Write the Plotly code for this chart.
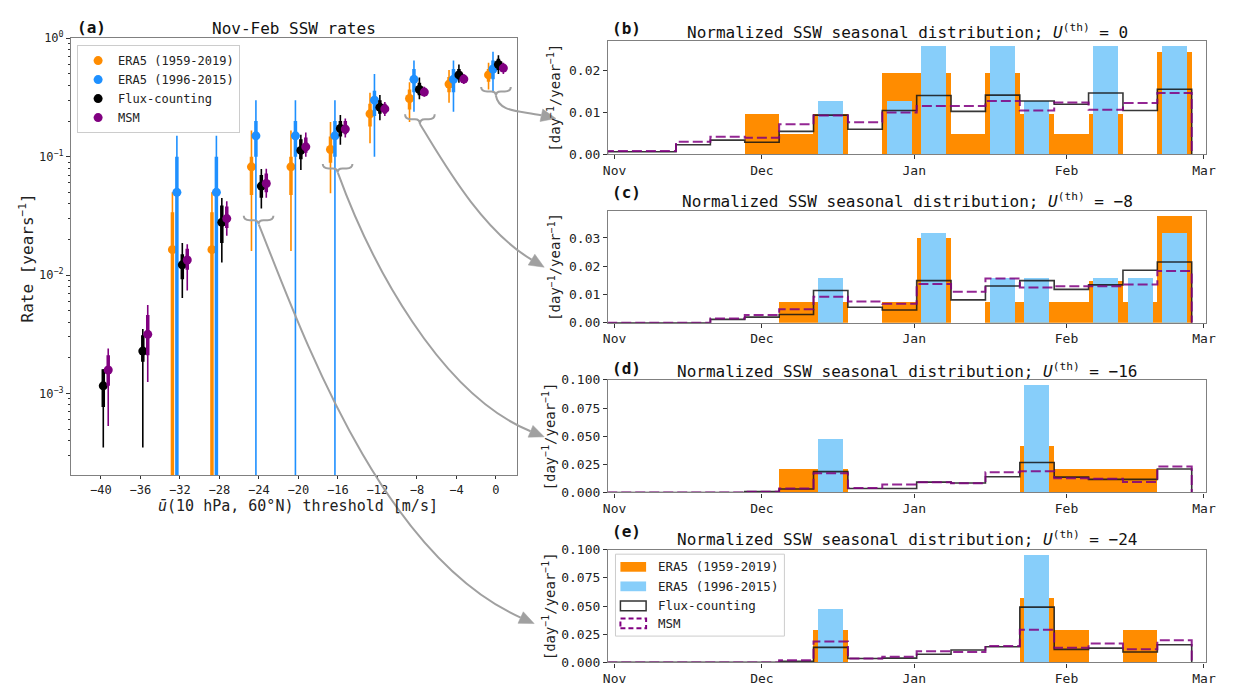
import plotly.graph_objects as go

W, H = 1233, 687
MONO = "DejaVu Sans Mono"
GRAY = "#a0a0a0"

# ---------------- Panel (a) data ----------------
thresholds = [-40, -36, -32, -28, -24, -20, -16, -12, -8, -4, 0]
threshold_labels = ["−40", "−36", "−32", "−28", "−24", "−20", "−16", "−12", "−8", "−4", "0"]

era5_long_rate = [None, None, 0.0164, 0.0164, 0.082, 0.082, 0.115, 0.23, 0.31, 0.41, 0.49]
era5_long_lo95 = [None, None, 0.0, 0.0, 0.016, 0.016, 0.049, 0.13, 0.196, 0.286, 0.37]
era5_long_hi95 = [None, None, 0.05, 0.05, 0.166, 0.166, 0.196, 0.347, 0.426, 0.54, 0.62]
era5_long_lo50 = [None, None, 0.0, 0.0, 0.0475, 0.0475, 0.089, 0.18, 0.25, 0.35, 0.43]
era5_long_hi50 = [None, None, 0.034, 0.034, 0.1, 0.1, 0.148, 0.28, 0.37, 0.47, 0.55]

era5_short_rate = [None, None, 0.05, 0.05, 0.15, 0.15, 0.15, 0.30, 0.45, 0.45, 0.55]
era5_short_lo95 = [None, None, 0.0, 0.0, 0.0, 0.0, 0.0, 0.1, 0.24, 0.24, 0.35]
era5_short_hi95 = [None, None, 0.15, 0.15, 0.3, 0.3, 0.3, 0.5, 0.65, 0.65, 0.77]
era5_short_lo50 = [None, None, 0.0, 0.0, 0.1, 0.1, 0.1, 0.22, 0.35, 0.35, 0.45]
era5_short_hi50 = [None, None, 0.1, 0.1, 0.2, 0.2, 0.2, 0.36, 0.55, 0.55, 0.65]

flux_rate = [0.00116, 0.00228, 0.0122, 0.0279, 0.0564, 0.113, 0.173, 0.261, 0.369, 0.49, 0.60]
flux_lo95 = [0.00035, 0.00035, 0.0064, 0.0128, 0.0365, 0.077, 0.126, 0.203, 0.305, 0.42, 0.50]
flux_hi95 = [0.0016, 0.0035, 0.0187, 0.0447, 0.0787, 0.153, 0.225, 0.332, 0.466, 0.60, 0.72]
flux_lo50 = [0.00077, 0.00185, 0.0092, 0.0187, 0.045, 0.095, 0.148, 0.23, 0.33, 0.45, 0.54]
flux_hi50 = [0.0016, 0.0031, 0.015, 0.0386, 0.07, 0.14, 0.2, 0.3, 0.42, 0.55, 0.67]

msm_rate = [0.00158, 0.00316, 0.0134, 0.030, 0.0593, 0.121, 0.171, 0.253, 0.351, 0.452, 0.56]
msm_lo95 = [0.00053, 0.00125, 0.0074, 0.0215, 0.045, 0.10, 0.145, 0.22, 0.32, 0.41, 0.50]
msm_hi95 = [0.0024, 0.0056, 0.0182, 0.042, 0.079, 0.16, 0.21, 0.29, 0.39, 0.50, 0.62]
msm_lo50 = [0.00116, 0.0021, 0.0111, 0.025, 0.05, 0.108, 0.155, 0.23, 0.33, 0.42, 0.52]
msm_hi50 = [0.0021, 0.0046, 0.0167, 0.038, 0.072, 0.145, 0.2, 0.28, 0.37, 0.48, 0.60]

series_names = ["ERA5 (1959-2019)", "ERA5 (1996-2015)", "Flux-counting", "MSM"]
series_colors = ["#ff8c00", "#1e90ff", "#000000", "#800080"]
series_offsets = [-0.75, -0.3, 0.25, 0.75]

# ---------------- Seasonal histograms (weekly bins, days since Nov 1) ----------------
bin_edges = [-1.5, 5.5, 12.5, 19.5, 26.5, 33.5, 40.5, 47.5, 54.5, 61.5,
             68.5, 75.5, 82.5, 89.5, 96.5, 103.5, 110.5, 117.5]
month_ticks = [0, 30, 61, 92, 120]
month_labels = ["Nov", "Dec", "Jan", "Feb", "Mar"]

# (b) U_th = 0
orange_b = [0, 0, 0, 0, 0.0098, 0.0049, 0.0098, 0, 0.0197, 0.0197, 0.0049, 0.0197, 0.0098, 0.0049, 0.0098, 0, 0.0246]
blue_b = [0, 0, 0, 0, 0, 0, 0.013, 0, 0.013, 0.026, 0, 0.026, 0.013, 0, 0.026, 0, 0.026]
flux_b = [0.0006, 0.0006, 0.0023, 0.0034, 0.0029, 0.0055, 0.0094, 0.006, 0.0105, 0.0141, 0.0103, 0.0142, 0.0128, 0.012, 0.0147, 0.0105, 0.0156]
msm_b = [0.0008, 0.0008, 0.003, 0.0042, 0.004, 0.0072, 0.0093, 0.0077, 0.01, 0.0116, 0.0116, 0.0128, 0.0105, 0.0124, 0.0107, 0.0123, 0.0147]

# (c) U_th = -8
orange_c = [0, 0, 0, 0, 0, 0.0075, 0.0075, 0, 0.0075, 0.0302, 0, 0.0075, 0.0075, 0.0075, 0.0151, 0.0075, 0.0378]
blue_c = [0, 0, 0, 0, 0, 0, 0.0159, 0, 0, 0.0318, 0, 0.0159, 0.0159, 0, 0.0159, 0.0159, 0.0318]
flux_c = [0, 0, 0, 0.0012, 0.002, 0.0029, 0.0114, 0.0055, 0.0045, 0.0149, 0.0081, 0.013, 0.0149, 0.0118, 0.0134, 0.0186, 0.0215]
msm_c = [0, 0, 0, 0.0015, 0.0027, 0.0048, 0.0092, 0.0075, 0.0067, 0.0137, 0.011, 0.0157, 0.0125, 0.0129, 0.0129, 0.0135, 0.0183]

# (d) U_th = -16
orange_d = [0, 0, 0, 0, 0, 0.0205, 0.0205, 0, 0, 0, 0, 0, 0.041, 0.0205, 0.0205, 0.0205, 0]
blue_d = [0, 0, 0, 0, 0, 0, 0.048, 0, 0, 0, 0, 0, 0.0956, 0, 0, 0, 0]
flux_d = [0, 0, 0, 0, 0.0008, 0.003, 0.0185, 0.0035, 0.0035, 0.0092, 0.0084, 0.0139, 0.0266, 0.0136, 0.0116, 0.0116, 0.0208]
msm_d = [0, 0, 0, 0, 0.0005, 0.0035, 0.017, 0.004, 0.007, 0.009, 0.0081, 0.018, 0.0188, 0.0127, 0.0121, 0.0092, 0.0231]

# (e) U_th = -24
orange_e = [0, 0, 0, 0, 0, 0, 0.0289, 0, 0, 0, 0, 0, 0.0578, 0.0289, 0, 0.0289, 0]
blue_e = [0, 0, 0, 0, 0, 0, 0.048, 0, 0, 0, 0, 0, 0.0956, 0, 0, 0, 0]
flux_e = [0, 0, 0, 0, 0, 0.001, 0.0133, 0.0035, 0.0038, 0.0072, 0.011, 0.0139, 0.049, 0.0116, 0.0127, 0.0092, 0.0156]
msm_e = [0, 0, 0, 0, 0, 0.002, 0.0185, 0.0035, 0.005, 0.01, 0.0092, 0.0145, 0.0289, 0.013, 0.0168, 0.0116, 0.0196]

hist_panels = [
    ("b", "0", orange_b, blue_b, flux_b, msm_b, [0, 0.0273], [0, 0.01, 0.02], ["0.00", "0.01", "0.02"]),
    ("c", "−8", orange_c, blue_c, flux_c, msm_c, [0, 0.0397], [0, 0.01, 0.02, 0.03], ["0.00", "0.01", "0.02", "0.03"]),
    ("d", "−16", orange_d, blue_d, flux_d, msm_d, [0, 0.1], [0, 0.025, 0.05, 0.075, 0.1], ["0.000", "0.025", "0.050", "0.075", "0.100"]),
    ("e", "−24", orange_e, blue_e, flux_e, msm_e, [0, 0.1], [0, 0.025, 0.05, 0.075, 0.1], ["0.000", "0.025", "0.050", "0.075", "0.100"]),
]
hist_legend_names = ["ERA5 (1959-2019)", "ERA5 (1996-2015)", "Flux-counting", "MSM"]

# ---------------- layout geometry (pixels) ----------------
def pxx(x):
    return x / W


def pxy(y):
    return 1 - y / H


A_BOX = (67, 518, 30, 478)  # left, right, top, bottom
HIST_X = (610.5, 1216.0)
HIST_Y = [(32.3, 149.0), (206.7, 321.7), (380.3, 495.7), (554.3, 670.0)]
HIST_YLABEL_X = [556, 556, 551, 551]
HIST_TITLE_DY = [9.5, 10, 10, 11]
HIST_LABEL_DY = [12, 18.5, 12, 19]

fig = go.Figure()

# ---------------- Panel (a) traces ----------------
all_series = [
    (era5_long_rate, era5_long_lo95, era5_long_hi95, era5_long_lo50, era5_long_hi50),
    (era5_short_rate, era5_short_lo95, era5_short_hi95, era5_short_lo50, era5_short_hi50),
    (flux_rate, flux_lo95, flux_hi95, flux_lo50, flux_hi50),
    (msm_rate, msm_lo95, msm_hi95, msm_lo50, msm_hi50),
]


def plus(v, hi):
    return [None if a is None else b - a for a, b in zip(v, hi)]


def minus(v, lo):
    return [None if a is None else a - b for a, b in zip(v, lo)]


for (rate, lo95, hi95, lo50, hi50), name, col, off in zip(all_series, series_names, series_colors, series_offsets):
    xs = [t + off for t in thresholds]
    fig.add_trace(go.Scatter(
        x=xs, y=rate, mode="markers", marker=dict(size=1, color="rgba(0,0,0,0)"),
        error_y=dict(type="data", symmetric=False, array=plus(rate, hi95), arrayminus=minus(rate, lo95),
                     thickness=1.6, width=0, color=col),
        showlegend=False, hoverinfo="skip", xaxis="x", yaxis="y"))
    fig.add_trace(go.Scatter(
        x=xs, y=rate, mode="markers", marker=dict(size=9, color=col),
        error_y=dict(type="data", symmetric=False, array=plus(rate, hi50), arrayminus=minus(rate, lo50),
                     thickness=3.5, width=0, color=col),
        name=name, xaxis="x", yaxis="y"))

# ---------------- Histogram traces ----------------
centers = [(a + b) / 2 for a, b in zip(bin_edges[:-1], bin_edges[1:])]
step_x = [bin_edges[0]] + bin_edges[:-1] + [bin_edges[-1], bin_edges[-1]]

for i, (lab, uth, org, blu, flx, msm, yr, ytv, ytt) in enumerate(hist_panels):
    xa, ya = "x%d" % (i + 2), "y%d" % (i + 2)
    fig.add_trace(go.Bar(x=centers, y=org, width=7, marker=dict(color="#ff8c00", line=dict(width=0)),
                         name=hist_legend_names[0], showlegend=False, xaxis=xa, yaxis=ya))
    fig.add_trace(go.Bar(x=centers, y=blu, width=5.1, marker=dict(color="#87cefa", line=dict(width=0)),
                         name=hist_legend_names[1], showlegend=False, xaxis=xa, yaxis=ya))
    fig.add_trace(go.Scatter(x=step_x, y=[0] + flx + [flx[-1], 0], mode="lines", line_shape="hv",
                             line=dict(color="rgba(20,20,20,0.85)", width=1.6), name=hist_legend_names[2],
                             showlegend=False, xaxis=xa, yaxis=ya))
    fig.add_trace(go.Scatter(x=step_x, y=[0] + msm + [msm[-1], 0], mode="lines", line_shape="hv",
                             line=dict(color="rgba(128,0,128,0.85)", width=2, dash="10px,4px"),
                             name=hist_legend_names[3], showlegend=False, xaxis=xa, yaxis=ya))

# ---------------- Axes ----------------
axis_common = dict(showline=True, mirror=True, linecolor="#808080", linewidth=1.3, ticks="outside",
                   ticklen=4, tickcolor="#333333", showgrid=False, zeroline=False,
                   tickfont=dict(family=MONO, size=12, color="#222222"))

minor_log = [m * 10 ** e for e in (-4, -3, -2, -1) for m in range(2, 10)]

layout = dict(
    width=W, height=H, margin=dict(l=0, r=0, t=0, b=0),
    paper_bgcolor="white", plot_bgcolor="white", barmode="overlay", bargap=0,
    font=dict(family=MONO, color="#222222"), showlegend=True,
    xaxis=dict(axis_common, domain=[pxx(A_BOX[0]), pxx(A_BOX[1])], range=[-43, 2.1], anchor="y",
               tickvals=thresholds, ticktext=threshold_labels, ticklen=3),
    yaxis=dict(axis_common, domain=[pxy(A_BOX[3]), pxy(A_BOX[2])], type="log", range=[-3.69, 0], anchor="x",
               tickvals=[1e-3, 1e-2, 1e-1, 1], ticktext=["10<sup>−3</sup>", "10<sup>−2</sup>", "10<sup>−1</sup>", "10<sup>0</sup>"],
               minor=dict(ticks="outside", ticklen=2, tickcolor="#333333", tickvals=minor_log)),
    legend=dict(x=pxx(73), y=pxy(37), xanchor="left", yanchor="top", bgcolor="white",
                bordercolor="#cccccc", borderwidth=1, font=dict(family=MONO, size=12, color="#222222"),
                tracegroupgap=0),
)

annotations = []
shapes = []

for i, (lab, uth, org, blu, flx, msm, yr, ytv, ytt) in enumerate(hist_panels):
    top, bot = HIST_Y[i]
    layout["xaxis%d" % (i + 2)] = dict(axis_common, domain=[pxx(HIST_X[0]), pxx(HIST_X[1])], range=[-1.33, 120.45],
                                        anchor="y%d" % (i + 2), tickvals=month_ticks, ticktext=month_labels,
                                        tickfont=dict(family=MONO, size=13, color="#222222"))
    layout["yaxis%d" % (i + 2)] = dict(axis_common, domain=[pxy(bot), pxy(top)], range=yr, anchor="x%d" % (i + 2),
                                        tickvals=ytv, ticktext=ytt,
                                        tickfont=dict(family=MONO, size=13, color="#222222"))
    annotations.append(dict(x=pxx((HIST_X[0] + HIST_X[1]) / 2), y=pxy(top - HIST_TITLE_DY[i]), xref="paper", yref="paper",
                            text="Normalized SSW seasonal distribution; <i>U</i><sup>(th)</sup> = " + uth,
                            showarrow=False, xanchor="center", yanchor="middle",
                            font=dict(family=MONO, size=16, color="#111111")))
    annotations.append(dict(x=pxx(612), y=pxy(top - HIST_LABEL_DY[i]), xref="paper", yref="paper",
                            text="<b>(%s)</b>" % lab,
                            showarrow=False, xanchor="left", yanchor="middle",
                            font=dict(family=MONO, size=16, color="#111111")))
    annotations.append(dict(x=pxx(HIST_YLABEL_X[i]), y=pxy((top + bot) / 2), xref="paper", yref="paper",
                            text="[day<sup>−1</sup>/year<sup>−1</sup>]", textangle=-90, showarrow=False,
                            xanchor="center", yanchor="middle", font=dict(family=MONO, size=14, color="#222222")))

# panel (a) texts
annotations.append(dict(x=pxx((A_BOX[0] + A_BOX[1]) / 2), y=pxy(20), xref="paper", yref="paper",
                        text="Nov-Feb SSW rates", showarrow=False, xanchor="center", yanchor="middle",
                        font=dict(family=MONO, size=16, color="#111111")))
annotations.append(dict(x=pxx(71), y=pxy(19), xref="paper", yref="paper", text="<b>(a)</b>",
                        showarrow=False, xanchor="left", yanchor="middle", font=dict(family=MONO, size=16, color="#111111")))
annotations.append(dict(x=pxx(22), y=pxy(255), xref="paper", yref="paper", text="Rate [years<sup>−1</sup>]",
                        textangle=-90, showarrow=False, xanchor="center", yanchor="middle",
                        font=dict(family=MONO, size=16, color="#222222")))
annotations.append(dict(x=pxx(297), y=pxy(510), xref="paper", yref="paper",
                        text="<i>ū</i>(10 hPa, 60°N) threshold [m/s]", showarrow=False, xanchor="center",
                        yanchor="middle", font=dict(family=MONO, size=15, color="#222222")))


# ---------------- braces & connecting arrows (decoration, pixel geometry) ----------------
def P(x, y):
    return "%.5f,%.5f" % (pxx(x), pxy(y))


brace_specs = [(256.7, 212, 221), (336.7, 159, 168), (420.0, 108, 118), (497.0, 80, 89)]
for cx, yt, yb in brace_specs:
    hw = 15
    ym = (yt + yb) / 2
    path = ("M" + P(cx - hw, yt) + " Q" + P(cx - hw, ym) + " " + P(cx - hw + 6, ym) +
            " L" + P(cx - 5, ym) + " Q" + P(cx, ym) + " " + P(cx, yb) +
            " Q" + P(cx, ym) + " " + P(cx + 5, ym) + " L" + P(cx + hw - 6, ym) +
            " Q" + P(cx + hw, ym) + " " + P(cx + hw, yt))
    shapes.append(dict(type="path", path=path, xref="paper", yref="paper", line=dict(color=GRAY, width=2)))

arrow_specs = [
    ((497, 89), (500, 106), (520, 104), (543, 109)),
    ((420, 118), (440, 150), (480, 225), (533, 257)),
    ((337, 168), (370, 260), (440, 395), (532, 433)),
    ((257, 221), (300, 330), (380, 560), (522, 624)),
]
for p0, c1, c2, e in arrow_specs:
    path = "M" + P(*p0) + " C" + P(*c1) + " " + P(*c2) + " " + P(*e)
    shapes.append(dict(type="path", path=path, xref="paper", yref="paper", line=dict(color=GRAY, width=2)))
    dx, dy = e[0] - c2[0], e[1] - c2[1]
    n = (dx * dx + dy * dy) ** 0.5
    ux, uy = dx / n, dy / n
    L, hw = 15, 6.5
    tip = (e[0] + ux * L, e[1] + uy * L)
    b1 = (e[0] - uy * hw, e[1] + ux * hw)
    b2 = (e[0] + uy * hw, e[1] - ux * hw)
    tri = "M" + P(*b1) + " L" + P(*tip) + " L" + P(*b2) + " Z"
    shapes.append(dict(type="path", path=tri, xref="paper", yref="paper", fillcolor=GRAY,
                       line=dict(color=GRAY, width=0.5)))


# ---------------- legend box of panel (e) (matplotlib-style patches) ----------------
def rect(x0, y0, x1, y1, **kw):
    d = dict(type="rect", xref="paper", yref="paper", x0=pxx(x0), x1=pxx(x1), y0=pxy(y1), y1=pxy(y0))
    d.update(kw)
    return d


shapes.append(rect(618, 559, 789, 643, fillcolor="white", line=dict(color="#cccccc", width=1)))
legend_rows = [572, 592, 612, 630]
swatch_styles = [
    dict(fillcolor="#ff8c00", line=dict(width=0)),
    dict(fillcolor="#87cefa", line=dict(width=0)),
    dict(fillcolor="rgba(0,0,0,0)", line=dict(color="#333333", width=1.5)),
    dict(fillcolor="rgba(0,0,0,0)", line=dict(color="#800080", width=2, dash="5px,3px")),
]
for yc, name, sty in zip(legend_rows, hist_legend_names, swatch_styles):
    shapes.append(rect(623, yc - 5, 649, yc + 5, **sty))
    annotations.append(dict(x=pxx(659), y=pxy(yc), xref="paper", yref="paper", text=name, showarrow=False,
                            xanchor="left", yanchor="middle", font=dict(family=MONO, size=12.5, color="#222222")))

layout["annotations"] = annotations
layout["shapes"] = shapes
fig.update_layout(**layout)

fig.write_html("out.html")
